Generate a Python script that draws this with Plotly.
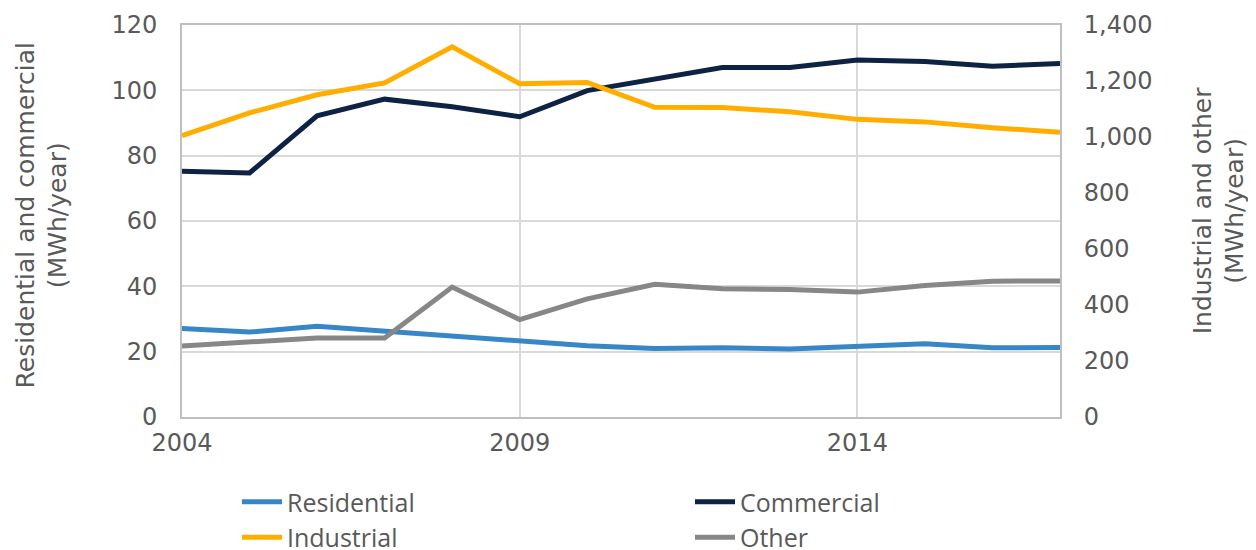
import plotly.graph_objects as go

years = list(range(2004, 2018))
residential = [27.1, 26.0, 27.8, 26.3, 25.0, 23.3, 21.8, 21.0, 21.2, 20.8, 21.6, 22.4, 21.2, 21.3]
commercial = [75.2, 74.7, 92.2, 97.3, 95.0, 91.9, 99.9, 103.6, 107.0, 107.0, 109.3, 108.8, 107.4, 108.2]
industrial = [1005, 1086, 1151, 1193, 1322, 1190, 1195, 1106, 1105, 1090, 1063, 1054, 1033, 1017]
other = [254, 270, 282, 282, 464, 348, 422, 474, 458, 455, 446, 470, 485, 486]

left_ticks = [0, 20, 40, 60, 80, 100, 120]
right_ticks = [0, 200, 400, 600, 800, 1000, 1200, 1400]
x_ticks = [2004, 2009, 2014]
left_title = "Residential and commercial<br>(MWh/year)"
right_title = "Industrial and other<br>(MWh/year)"

AX_FONT = "DejaVu Sans"
LEG_FONT = "Open Sans"
TXT = "#595959"
W, H = 1248, 542  # page body has an 8px margin

fig = go.Figure()
fig.add_trace(go.Scatter(x=years, y=residential, name="Residential", mode="lines",
                         legend="legend", line=dict(color="#3787C8", width=5)))
fig.add_trace(go.Scatter(x=years, y=commercial, name="Commercial", mode="lines",
                         legend="legend2", line=dict(color="#0E2244", width=5)))
fig.add_trace(go.Scatter(x=years, y=industrial, name="Industrial", mode="lines", yaxis="y2",
                         legend="legend", line=dict(color="#FFAE00", width=5)))
fig.add_trace(go.Scatter(x=years, y=other, name="Other", mode="lines", yaxis="y2",
                         legend="legend2", line=dict(color="#878787", width=5)))

leg_common = dict(orientation="v", xref="container", yref="container", xanchor="left",
                  yanchor="top", y=1 - 471 / H, tracegroupgap=0, itemwidth=40,
                  font=dict(family=LEG_FONT, size=25, color=TXT), bgcolor="rgba(0,0,0,0)")

fig.update_layout(
    width=W, height=H,
    margin=dict(l=174, r=196, t=17, b=133, autoexpand=False),
    paper_bgcolor="white", plot_bgcolor="white",
    font=dict(family=AX_FONT, size=24, color=TXT),
    xaxis=dict(range=[2004, 2017], tickvals=x_ticks, ticktext=[str(v) for v in x_ticks],
               showgrid=True, gridcolor="#d9d9d9", gridwidth=2, automargin=False,
               showline=True, linecolor="#bfbfbf", linewidth=2, mirror=True,
               ticks="outside", ticklen=3, tickcolor="rgba(0,0,0,0)", zeroline=False),
    yaxis=dict(range=[0, 120], tickvals=left_ticks, automargin=False,
               showgrid=True, gridcolor="#d9d9d9", gridwidth=2,
               showline=True, linecolor="#bfbfbf", linewidth=2, mirror=True,
               ticks="outside", ticklen=18, tickcolor="rgba(0,0,0,0)", zeroline=False),
    yaxis2=dict(range=[0, 1400], tickvals=right_ticks, tickformat=",d", automargin=False,
                overlaying="y", side="right", showgrid=False, zeroline=False,
                ticks="outside", ticklen=18, tickcolor="rgba(0,0,0,0)"),
    legend=dict(x=229 / W, **leg_common),
    legend2=dict(x=682 / W, **leg_common),
    showlegend=True,
    annotations=[
        dict(text=left_title, xref="paper", yref="paper", x=-0.160, y=0.513,
             xanchor="center", yanchor="middle", textangle=-90, showarrow=False,
             font=dict(family=AX_FONT, size=25, color=TXT)),
        dict(text=right_title, xref="paper", yref="paper", x=1.181, y=0.527,
             xanchor="center", yanchor="middle", textangle=-90, showarrow=False,
             font=dict(family=AX_FONT, size=25, color=TXT)),
    ],
)

fig.write_html("out.html")
